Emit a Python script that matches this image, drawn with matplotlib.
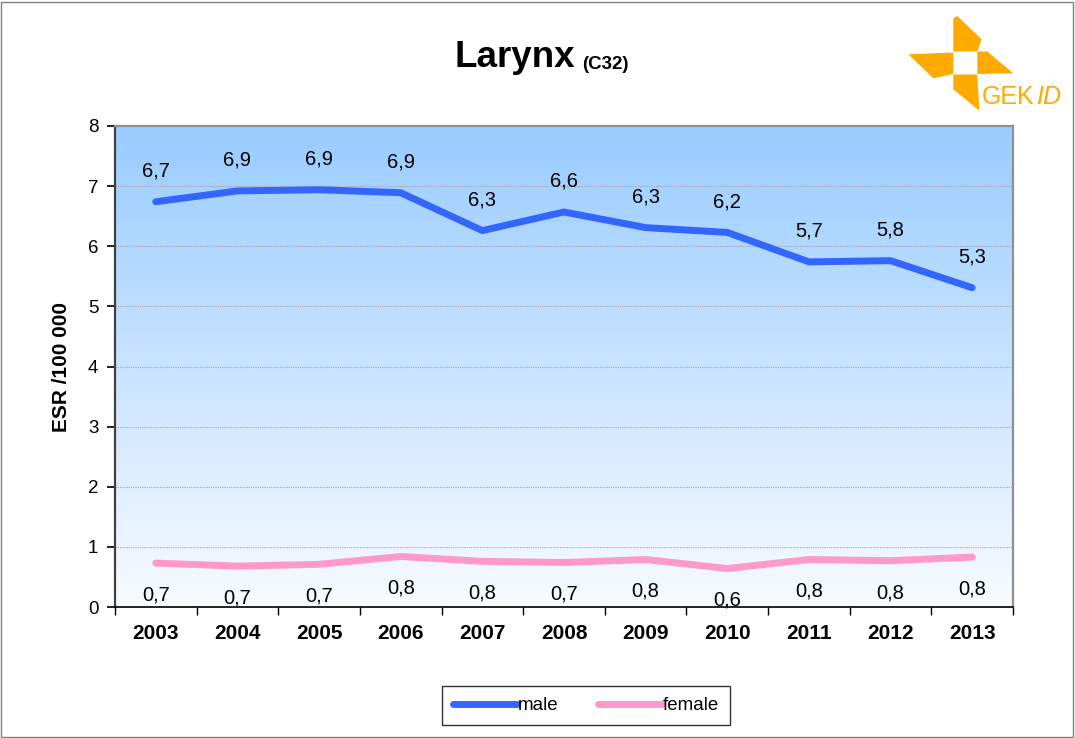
import matplotlib.pyplot as plt
import numpy as np
from matplotlib.patches import Polygon, Rectangle

plt.rcParams['font.family'] = ['Liberation Sans', 'DejaVu Sans']

years = ["2003", "2004", "2005", "2006", "2007", "2008", "2009", "2010", "2011", "2012", "2013"]
male = [6.74, 6.92, 6.94, 6.89, 6.26, 6.57, 6.31, 6.23, 5.74, 5.76, 5.31]
female = [0.73, 0.68, 0.71, 0.84, 0.76, 0.74, 0.79, 0.64, 0.79, 0.77, 0.83]

W, H = 1075, 738
fig = plt.figure(figsize=(W / 100, H / 100), dpi=100)
ax = fig.add_axes([115 / W, 1 - 607 / H, (1013 - 115) / W, (607 - 126) / H])

x = np.arange(len(years))

# gradient background, light at the bottom, blue at the top
grad = np.linspace(0, 1, 256).reshape(-1, 1, 1)
top = np.array([153, 204, 255]) / 255
bot = np.array([248, 251, 255]) / 255
img = bot + (top - bot) * grad
ax.imshow(img, extent=[0, 1, 0, 1], transform=ax.transAxes, aspect="auto",
          origin="lower", zorder=0)

ax.set_xlim(-0.5, len(years) - 0.5)
ax.set_ylim(0, 8)
ax.set_yticks(range(0, 9))
ax.grid(axis="y", color="#a8a8a8", linestyle=(0, (1, 1)), linewidth=0.8, zorder=1)

ax.plot(x, male, color="#3366FF", linewidth=5, solid_capstyle="round",
        label="male", zorder=3)
ax.plot(x, female, color="#FF99CC", linewidth=5, solid_capstyle="round",
        label="female", zorder=3)

for xi, v in zip(x, male):
    ax.annotate(f"{v:.1f}".replace(".", ","), (xi, v), xytext=(0, 22),
                textcoords="offset points", ha="center", va="center", fontsize=14.5)
for xi, v in zip(x, female):
    ax.annotate(f"{v:.1f}".replace(".", ","), (xi, v), xytext=(0, -23),
                textcoords="offset points", ha="center", va="center", fontsize=14.5)

ax.set_xticks(x)
ax.set_xticklabels(years, fontweight="bold", fontsize=15)
ax.set_xticks(np.arange(-0.5, len(years)), minor=True)
ax.tick_params(axis="x", which="major", length=0, pad=12)
ax.tick_params(axis="x", which="minor", length=6, width=1, color="black")
ax.tick_params(axis="y", length=6, width=1.2, labelsize=13.5, pad=6)

ax.spines["left"].set_color("#404040")
ax.spines["left"].set_linewidth(1.6)
ax.spines["bottom"].set_color("black")
ax.spines["bottom"].set_linewidth(1.2)
for s in ["top", "right"]:
    ax.spines[s].set_color("#909090")
    ax.spines[s].set_linewidth(1.6)

ax.set_ylabel("ESR /100 000", fontweight="bold", fontsize=15, labelpad=12)

# title
fig.text(575 / W, 1 - 67 / H, "Larynx", fontsize=26.5, fontweight="bold",
         ha="right", va="baseline")
fig.text(582 / W, 1 - 69 / H, "(C32)", fontsize=13.5, fontweight="bold",
         ha="left", va="baseline")

leg = fig.legend(loc="center", bbox_to_anchor=(586 / W, 1 - 705.5 / H), ncol=2,
                 fontsize=13.5, frameon=True, fancybox=False, edgecolor="black",
                 handlelength=3.4, handletextpad=0.05, columnspacing=2.1,
                 borderpad=0.6, borderaxespad=0, handleheight=0.7)
leg.get_frame().set_linewidth(1.0)

# GEKID logo
orange = "#FFAA00"
def px(pts):
    return [(a / W, 1 - b / H) for a, b in pts]
pieces = [
    [(953.3, 18.3), (957.3, 16), (981.7, 39.3), (977.3, 51.5), (953.3, 51.5)],
    [(908.3, 54.3), (953.3, 52.5), (953.3, 74), (933.3, 78.3)],
    [(977.3, 51.5), (987.3, 51.5), (1013.3, 73.3), (977.3, 74)],
    [(953.3, 74.5), (977.3, 74.5), (979.3, 110.7), (953.3, 89.3)],
]
for p in pieces:
    fig.add_artist(Polygon(px(p), closed=True, facecolor=orange, edgecolor="none",
                           transform=fig.transFigure))
fig.text(1034 / W, 1 - 104 / H, "GEK", color=orange, fontsize=18, ha="right",
         va="baseline")
fig.text(1036 / W, 1 - 104 / H, "ID", color=orange, fontsize=18, style="italic",
         ha="left", va="baseline")

# outer border
fig.add_artist(Rectangle((1 / W, 1 / H), 1 - 3 / W, 1 - 3 / H, fill=False,
                         edgecolor="#808080", linewidth=1.0, transform=fig.transFigure))

fig.savefig("out.png", dpi=100)
